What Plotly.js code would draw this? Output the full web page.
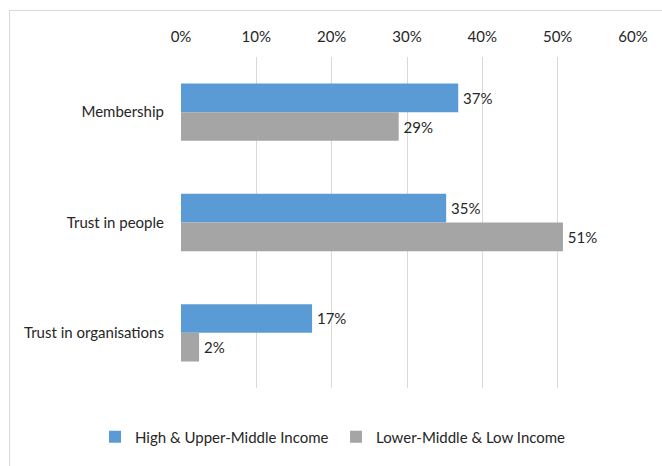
<!DOCTYPE html>
<html>
<head>
<meta charset="utf-8">
<script src="https://cdn.plot.ly/plotly-3.0.1.min.js"></script>
<style>
  html, body { margin: 0; padding: 0; background: #fff; }
  #wrap { position: relative; width: 662px; height: 466px; overflow: hidden; }
  #frame { position: absolute; left: 9px; top: 10px; width: 700px; height: 500px;
           border-left: 1px solid #d9d9d9; border-top: 1px solid #d9d9d9; pointer-events: none; }
  #chart { position: absolute; left: 0; top: 0; width: 662px; height: 466px; }
</style>
</head>
<body>
<div id="wrap">
  <div id="chart"></div>
  <div id="frame"></div>
</div>
<script>
const categories = ["Membership", "Trust in people", "Trust in organisations"];
const seriesNames = ["High & Upper-Middle Income", "Lower-Middle & Low Income"];
const highUpperMiddle = [36.8, 35.2, 17.4];
const lowerMiddleLow = [28.9, 50.7, 2.4];
const tickValues = [0, 10, 20, 30, 40, 50, 60];
const tickLabels = ["0%", "10%", "20%", "30%", "40%", "50%", "60%"];

const fontFamily = "Lato, 'Open Sans', sans-serif";
const textColor = "#262626";

function mk(name, vals, color, legendId) {
  return {
    type: "bar",
    orientation: "h",
    name: name,
    legend: legendId,
    y: categories,
    x: vals,
    marker: { color: color },
    text: vals.map(v => "\u2009" + Math.round(v) + "%"),
    textposition: "outside",
    cliponaxis: false,
    textfont: { family: fontFamily, size: 15, color: textColor },
    hoverinfo: "none"
  };
}

const data = [
  mk(seriesNames[0], highUpperMiddle, "#5b9bd5", "legend"),
  mk(seriesNames[1], lowerMiddleLow, "#a5a5a5", "legend2")
];

function legendAt(x) {
  return {
    orientation: "h",
    xref: "container",
    yref: "container",
    x: x,
    xanchor: "left",
    y: 0.062,
    yanchor: "middle",
    font: { family: fontFamily, size: 15, color: textColor },
    itemwidth: 30
  };
}

const layout = {
  width: 662,
  height: 466,
  margin: { l: 181, r: 29, t: 57, b: 78 },
  paper_bgcolor: "rgba(0,0,0,0)",
  plot_bgcolor: "#fff",
  font: { family: fontFamily, size: 15, color: textColor },
  barmode: "group",
  bargap: 0.48,
  bargroupgap: 0,
  showlegend: true,
  xaxis: {
    side: "top",
    range: [0, 60],
    tickvals: tickValues,
    ticktext: tickLabels,
    showgrid: true,
    gridcolor: "#d9d9d9",
    gridwidth: 1,
    zeroline: false,
    showline: false,
    ticks: "outside",
    ticklen: 8,
    tickcolor: "rgba(0,0,0,0)",
    tickfont: { family: fontFamily, size: 15, color: textColor },
    fixedrange: true
  },
  yaxis: {
    autorange: "reversed",
    showgrid: false,
    zeroline: false,
    showline: false,
    ticks: "outside",
    ticklen: 13,
    tickcolor: "rgba(0,0,0,0)",
    tickfont: { family: fontFamily, size: 15, color: textColor },
    fixedrange: true
  },
  legend: legendAt(0.1435),
  legend2: legendAt(0.5076)
};

Plotly.newPlot("chart", data, layout, { staticPlot: true, displayModeBar: false });
</script>
</body>
</html>
